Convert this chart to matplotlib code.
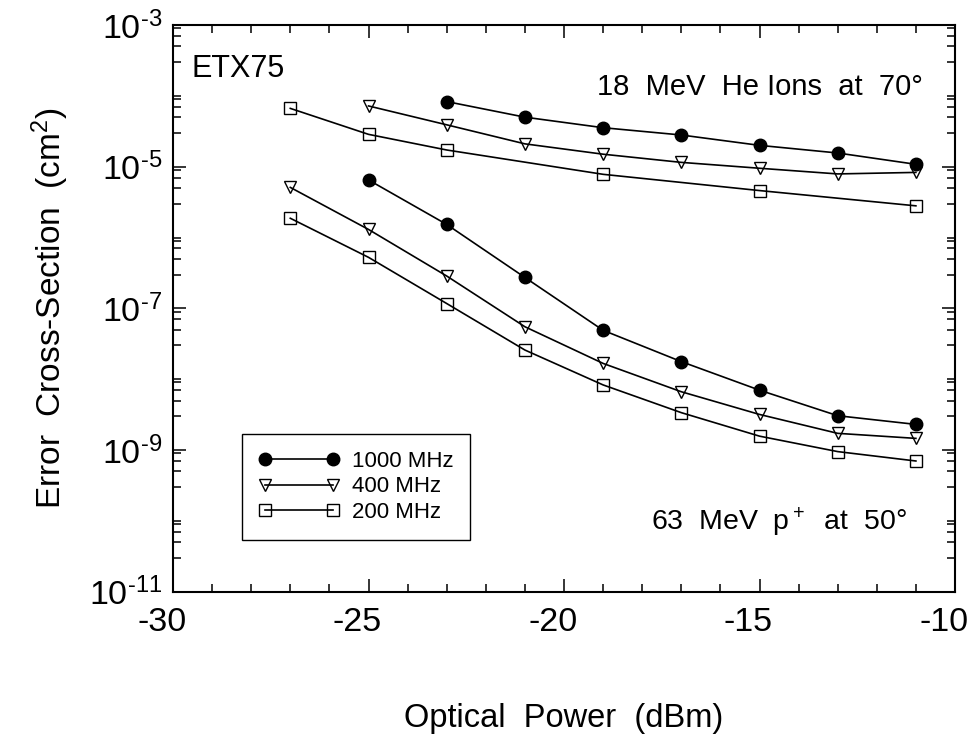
import matplotlib
matplotlib.use('Agg')
import matplotlib.pyplot as plt
import matplotlib.transforms as mtransforms
from matplotlib.ticker import FixedLocator, FuncFormatter, NullFormatter, MultipleLocator
import numpy as np

plt.rcParams['font.family'] = ['Liberation Sans', 'DejaVu Sans']
plt.rcParams['mathtext.fontset'] = 'custom'
plt.rcParams['mathtext.rm'] = 'Liberation Sans'
plt.rcParams['mathtext.it'] = 'Liberation Sans:italic'
plt.rcParams['mathtext.bf'] = 'Liberation Sans:bold'
plt.rcParams['axes.unicode_minus'] = False

# ---------------- data ----------------
# 18 MeV He ions at 70 deg
he_1000_x = [-23, -21, -19, -17, -15, -13, -11]
he_1000_y = [8.3e-5, 5.0e-5, 3.55e-5, 2.8e-5, 2.0e-5, 1.56e-5, 1.08e-5]
he_400_x = [-25, -23, -21, -19, -17, -15, -13, -11]
he_400_y = [7.2e-5, 3.9e-5, 2.1e-5, 1.5e-5, 1.15e-5, 9.5e-6, 7.9e-6, 8.3e-6]
he_200_x = [-27, -25, -23, -19, -15, -11]
he_200_y = [6.65e-5, 2.86e-5, 1.72e-5, 7.8e-6, 4.6e-6, 2.8e-6]

# 63 MeV protons at 50 deg
p_1000_x = [-25, -23, -21, -19, -17, -15, -13, -11]
p_1000_y = [6.5e-6, 1.53e-6, 2.73e-7, 4.9e-8, 1.77e-8, 7.0e-9, 3.05e-9, 2.3e-9]
p_400_x = [-27, -25, -23, -21, -19, -17, -15, -13, -11]
p_400_y = [5.1e-6, 1.3e-6, 2.86e-7, 5.5e-8, 1.67e-8, 6.65e-9, 3.18e-9, 1.72e-9, 1.46e-9]
p_200_x = [-27, -25, -23, -21, -19, -17, -15, -13, -11]
p_200_y = [1.87e-6, 5.25e-7, 1.17e-7, 2.58e-8, 8.3e-9, 3.37e-9, 1.57e-9, 9.5e-10, 7.0e-10]

labels = ['1000 MHz', '400 MHz', '200 MHz']
x_major_ticks = [-30, -25, -20, -15, -10]
y_major_exponents = [-11, -9, -7, -5, -3]

# ---------------- figure ----------------
W, H = 973, 738
fig = plt.figure(figsize=(W / 100, H / 100), dpi=100)
L, R, T, B = 173, 955, 25, 591.7
ax = fig.add_axes([L / W, 1 - B / H, (R - L) / W, (B - T) / H])
ax.set_yscale('log')

styles = [
    dict(marker='o', mfc='black', mec='black', ms=9, mew=1.0),
    dict(marker='v', mfc='none', mec='black', ms=8, mew=1.0),
    dict(marker='s', mfc='none', mec='black', ms=8, mew=1.0),
]
line_kw = dict(color='black', lw=1.2)

he_sets = [(he_1000_x, he_1000_y), (he_400_x, he_400_y), (he_200_x, he_200_y)]
p_sets = [(p_1000_x, p_1000_y), (p_400_x, p_400_y), (p_200_x, p_200_y)]

handles = []
for (xs, ys), st, lab in zip(p_sets, styles, labels):
    h, = ax.plot(xs, ys, label=lab, **line_kw, **st)
    handles.append(h)
for (xs, ys), st in zip(he_sets, styles):
    ax.plot(xs, ys, **line_kw, **st)

ax.set_xlim(-30, -10)
ax.set_ylim(1e-11, 1e-3)

# x ticks
ax.xaxis.set_major_locator(FixedLocator(x_major_ticks))
ax.xaxis.set_minor_locator(MultipleLocator(1))
ax.xaxis.set_major_formatter(FuncFormatter(lambda v, p: '%d' % round(v)))

# y ticks
HYPH = '\u2010'
ymaj = [10.0 ** e for e in y_major_exponents]
ymin = []
for e in range(-11, -3):
    for m in (1, 3, 5, 7, 9):
        v = m * 10.0 ** e
        if e in y_major_exponents and m == 1:
            continue
        ymin.append(v)
ax.yaxis.set_major_locator(FixedLocator(ymaj))
ax.yaxis.set_minor_locator(FixedLocator(ymin))
ax.yaxis.set_major_formatter(FuncFormatter(
    lambda v, p: '$\\mathregular{10^{' + HYPH + '%d}}$' % abs(round(np.log10(v)))))
ax.yaxis.set_minor_formatter(NullFormatter())

ax.tick_params(which='both', direction='in', top=True, right=True,
               width=1.1, colors='black')
ax.tick_params(which='major', length=9.5, labelsize=24.5)
ax.tick_params(axis='x', which='major', pad=11)
ax.tick_params(axis='y', which='major', pad=8)
ax.tick_params(which='minor', length=6)
for s in ax.spines.values():
    s.set_linewidth(1.5)

# shift x tick labels slightly left, as in the reference
offset = mtransforms.ScaledTranslation(-11 / 100, 0, fig.dpi_scale_trans)
for lbl in ax.xaxis.get_majorticklabels():
    lbl.set_transform(lbl.get_transform() + offset)

# axis titles
fig.text(564 / W, 1 - 727 / H, 'Optical  Power  (dBm)', ha='center', va='baseline',
         fontsize=23.5)
fig.text(50 / W, 1 - 308 / H, r'Error  Cross-Section  (cm$\mathregular{^2}$)',
         ha='center', va='center', rotation=90, fontsize=24)

# annotations
fig.text(191.7 / W, 1 - 76.7 / H, 'ETX75', ha='left', va='baseline', fontsize=22)
fig.text(923 / W, 1 - 95 / H, '18  MeV  He Ions  at  70°', ha='right',
         va='baseline', fontsize=21)
fig.text(906.7 / W, 1 - 530 / H, r'63  MeV  p$\mathregular{^+}$  at  50°', ha='right',
         va='baseline', fontsize=20.5)

leg = ax.legend(handles=handles, loc='upper left',
                bbox_to_anchor=((241.7 - L) / (R - L), (B - 434.3) / (B - T)),
                borderaxespad=0, fontsize=16, handlelength=3.67,
                handletextpad=0.55, borderpad=0.75, labelspacing=0.2,
                numpoints=2, frameon=True, fancybox=False, framealpha=1,
                edgecolor='black')
leg.get_frame().set_linewidth(1.0)

fig.savefig('out.png', dpi=100)
